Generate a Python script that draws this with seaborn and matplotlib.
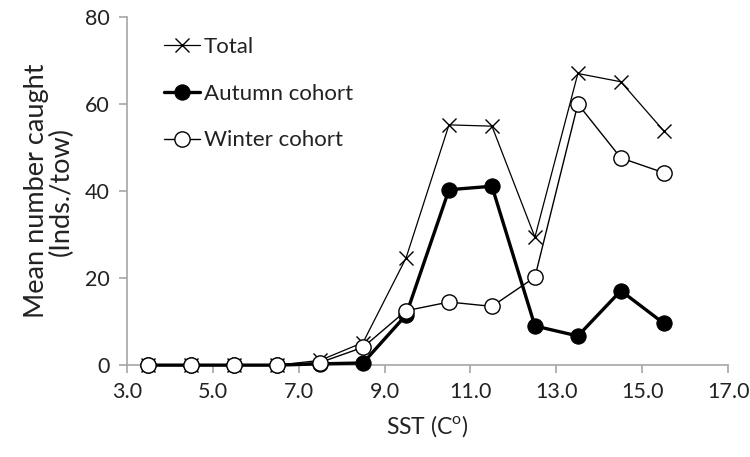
import numpy as np
import pandas as pd
import matplotlib
matplotlib.use('Agg')
import matplotlib.pyplot as plt
import seaborn as sns

# Valores
sst = [3.5, 4.5, 5.5, 6.5, 7.5, 8.5, 9.5, 10.5, 11.5, 12.5, 13.5, 14.5, 15.5]
total = [0, 0, 0, 0, 1.1, 5.2, 24.6, 55.2, 54.9, 29.4, 67.0, 65.1, 53.8]
autumn = [0, 0, 0, 0, 0.3, 0.5, 11.5, 40.3, 41.1, 9.0, 6.7, 17.1, 9.6]
winter = [0, 0, 0, 0, 0.6, 4.1, 12.5, 14.5, 13.5, 20.2, 60.0, 47.6, 44.2]

sns.set_style('white')
plt.rcParams['font.family'] = ['Lato', 'DejaVu Sans']
plt.rcParams['mathtext.fontset'] = 'custom'
plt.rcParams['mathtext.rm'] = 'Lato'

fig = plt.figure(figsize=(7.5, 4.57), dpi=100)
ax = fig.add_axes([0.169, 0.201, 0.802, 0.762])

kw = dict(ax=ax, color='black', clip_on=False, zorder=3)
sns.lineplot(x=sst, y=total, linewidth=0.9, marker='x', markersize=10,
             markeredgewidth=1.0, markeredgecolor='black', label='Total', **kw)
sns.lineplot(x=sst, y=autumn, linewidth=2.4, marker='o', markersize=11,
             markerfacecolor='black', markeredgecolor='black',
             label='Autumn cohort', **kw)
sns.lineplot(x=sst, y=winter, linewidth=1.0, marker='o', markersize=11,
             markerfacecolor='white', markeredgecolor='black',
             markeredgewidth=1.0, label='Winter cohort', **kw)

ax.set_xlim(3, 17)
ax.set_ylim(0, 80)
ax.set_xticks(np.arange(3, 17.1, 2))
ax.set_xticklabels([f'{v:.1f}' for v in np.arange(3, 17.1, 2)])
ax.set_yticks([0, 20, 40, 60, 80])

sns.despine(ax=ax)
for s in ['left', 'bottom']:
    ax.spines[s].set_color('#a6a6a6')
    ax.spines[s].set_linewidth(1.2)
ax.tick_params(axis='both', which='both', direction='out', length=6, width=1.2,
               color='#a6a6a6', labelsize=15.5, labelcolor='#222222', pad=6,
               bottom=True, left=True)
ax.set_xlabel(r'SST (C$^\mathregular{o}$)', fontsize=16.5, color='#222222', labelpad=8)
ax.set_ylabel('Mean number caught\n(Inds./tow)', fontsize=19.5, color='#222222',
              labelpad=8, linespacing=1.0)

leg = ax.legend(loc='upper left', bbox_to_anchor=(164 / 750, 1 - 37 / 457),
                bbox_transform=fig.transFigure, frameon=False, fontsize=16,
                handlelength=1.6, handletextpad=0.2, labelspacing=1.2,
                borderpad=0, borderaxespad=0)
for t in leg.get_texts():
    t.set_color('#222222')

fig.savefig('out.png', dpi=100)
